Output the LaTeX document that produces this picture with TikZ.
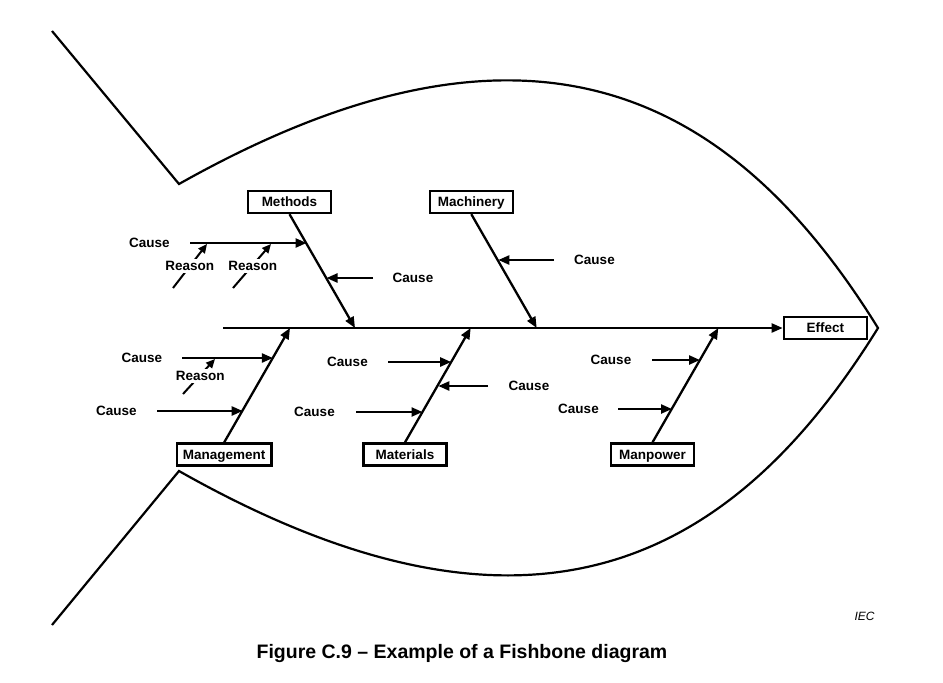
\documentclass[tikz,border=0pt]{standalone}
\usepackage{fontspec}
\setmainfont{Liberation Sans}
\usepackage{tikz}
\usetikzlibrary{arrows.meta}

\tikzset{
  every node/.style={anchor=center, font=\bfseries\fontsize{13.5}{16}\selectfont},
  bone/.style={line width=2.3pt, -{Triangle[length=11pt,width=9pt]}},
  reason/.style={line width=2pt, -{Triangle[length=9pt,width=8pt]}},
  catbox/.style={draw, line width=2.3pt, minimum width=83pt, minimum height=22pt,
    inner xsep=6pt, text height=12.5pt, text depth=2.7pt},
}

\begin{document}
\begin{tikzpicture}[x=1pt, y=-1pt]
\useasboundingbox (0,0) rectangle (943,683);

% Fish outline
\coordinate (tailtop) at (52,31);
\coordinate (finup) at (179,184);
\coordinate (nose) at (878,328);
\coordinate (finlow) at (179,471);
\coordinate (tailbot) at (52,625);
\draw[line width=2.2pt] (tailtop) -- (finup)
  .. controls (527,-12) and (730,89) .. (nose)
  .. controls (730,567) and (527,668) .. (finlow) -- (tailbot);

% Spine
\coordinate (head) at (223,328);
\node[catbox] (effect) at (825.3,328) {Effect};
\draw[bone] (head) -- (effect);

% Categories
\node[catbox] (methods) at (289.5,202) {Methods};
\node[catbox] (machinery) at (471.3,202) {Machinery};
\node[catbox] (management) at (224.2,454.5) {Management};
\node[catbox] (materials) at (405,454.5) {Materials};
\node[catbox] (manpower) at (652.5,454.5) {Manpower};

% Bones
\coordinate (j1) at (355,328);
\coordinate (j2) at (536.7,328);
\coordinate (j3) at (290,328);
\coordinate (j4) at (470.7,328);
\coordinate (j5) at (718.3,328);
\foreach \cat/\j in {methods/j1, machinery/j2} {
  \draw[bone] (\cat.south) -- (\j);
}
\foreach \cat/\j in {management/j3, materials/j4, manpower/j5} {
  \draw[bone] (\cat.north) -- (\j);
}

% Causes
\foreach \tx/\hx/\y/\lx [count=\i] in {190/306.6/243/149.5, 373/326.5/278/413,
    554/498.3/260/594.5, 182/272.9/358/142, 157/242.7/411/116.3,
    388/451.2/362/347.5, 488/438.3/386/529, 356/422.5/412/314.5,
    652/700/360/611, 618/672/409/578.5} {
  \node (cause\i) at (\lx,\y) {Cause};
  \coordinate (ctail\i) at (\tx,\y);
  \coordinate (chead\i) at (\hx,\y);
  \draw[bone] (ctail\i) -- (chead\i);
}

% Reasons
\foreach \tx/\ty/\hx/\hy/\lx/\ly [count=\i] in {173/288/207/244/189.7/266,
    233/288/271/244/252.8/266, 183/394/215/359/200.3/376} {
  \coordinate (rtail\i) at (\tx,\ty);
  \coordinate (rhead\i) at (\hx,\hy);
  \draw[reason] (rtail\i) -- (rhead\i);
  \node[fill=white, inner sep=2.5pt] (reason\i) at (\lx,\ly) {Reason};
}

\node[font=\itshape\fontsize{12}{14}\selectfont] (iec) at (864.5,616) {IEC};
\node[anchor=base, font=\bfseries\fontsize{19.5}{22}\selectfont] (caption) at (462,658)
  {Figure C.9 – Example of a Fishbone diagram};

\end{tikzpicture}
\end{document}
